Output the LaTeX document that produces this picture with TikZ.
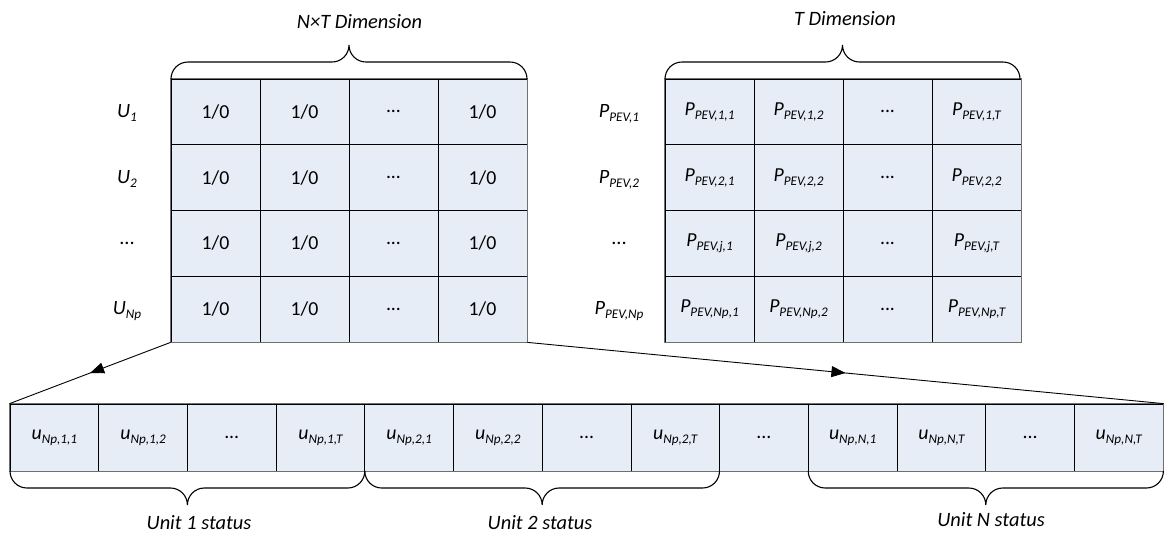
\documentclass[tikz,border=0pt]{standalone}
\usepackage{fontspec}
\setmainfont{Carlito}
\usetikzlibrary{arrows.meta,decorations.markings}
\definecolor{cellblue}{HTML}{E7EDF7}
\definecolor{edgegray}{HTML}{707070}
\newcommand{\Sb}[2]{\textit{#1}\raisebox{-3.8pt}{\fontsize{13.2}{14}\selectfont\itshape #2}}
\newcommand{\hbrace}[4]{%
  \pgfmathsetmacro\bxc{(#1+#2)/2}%
  \pgfmathsetmacro\bh{17*(#4)}%
  \draw[bracestyle] ({#1},{#3}) .. controls ({#1},{#3+0.55*(\bh)}) and ({#1+7.5},{#3+\bh}) .. ({#1+17},{#3+\bh})
    -- ({\bxc-17},{#3+\bh}) .. controls ({\bxc-7.5},{#3+\bh}) and ({\bxc},{#3+1.45*(\bh)}) .. ({\bxc},{#3+2*(\bh)})
    .. controls ({\bxc},{#3+1.45*(\bh)}) and ({\bxc+7.5},{#3+\bh}) .. ({\bxc+17},{#3+\bh})
    -- ({#2-17},{#3+\bh}) .. controls ({#2-7.5},{#3+\bh}) and ({#2},{#3+0.55*(\bh)}) .. ({#2},{#3});}
\begin{document}
\begin{tikzpicture}[x=1pt,y=-1pt,
  cell/.style={draw=black, fill=cellblue, line width=0.8pt, minimum width=89pt, minimum height=65.75pt, inner sep=0pt, font=\fontsize{19.8}{22}\selectfont},
  bcell/.style={cell, minimum width=88.7pt, minimum height=67pt},
  rowlabel/.style={inner sep=0pt, font=\fontsize{20.3}{24}\selectfont},
  title/.style={inner sep=0pt, font=\fontsize{20.4}{24}\selectfont\itshape},
  outer/.style={draw=edgegray, line width=1.3pt},
  bracestyle/.style={draw=black, line width=1.1pt},
  conn/.style={draw=black, line width=0.9pt, postaction={decorate}, decoration={markings, mark=at position 0.5 with {\arrow{Triangle[length=14pt,width=11pt]}}}}]
\useasboundingbox (0,0) rectangle (1164,539);

% ---- left matrix
\node[cell] (a11) at (215.5,111.9) {1/0};
\node[cell] (a12) at (304.5,111.9) {1/0};
\node[cell] (a13) at (393.5,111.9) {...};
\node[cell] (a14) at (482.5,111.9) {1/0};
\node[cell] (a21) at (215.5,177.6) {1/0};
\node[cell] (a22) at (304.5,177.6) {1/0};
\node[cell] (a23) at (393.5,177.6) {...};
\node[cell] (a24) at (482.5,177.6) {1/0};
\node[cell] (a31) at (215.5,243.4) {1/0};
\node[cell] (a32) at (304.5,243.4) {1/0};
\node[cell] (a33) at (393.5,243.4) {...};
\node[cell] (a34) at (482.5,243.4) {1/0};
\node[cell] (a41) at (215.5,309.1) {1/0};
\node[cell] (a42) at (304.5,309.1) {1/0};
\node[cell] (a43) at (393.5,309.1) {...};
\node[cell] (a44) at (482.5,309.1) {1/0};
\draw[outer] (a11.north west) rectangle (a44.south east);

\node[rowlabel] (lu1) at (127,113) {\Sb{U}{1}};
\node[rowlabel] (lu2) at (127,179) {\Sb{U}{2}};
\node[rowlabel] (lu3) at (127,243) {...};
\node[rowlabel] (lu4) at (127,311) {\Sb{U}{Np}};

% ---- right matrix
\node[cell] (p11) at (709.5,111.9) {\Sb{P}{PEV,1,1}};
\node[cell] (p12) at (798.5,111.9) {\Sb{P}{PEV,1,2}};
\node[cell] (p13) at (887.5,111.9) {...};
\node[cell] (p14) at (976.5,111.9) {\Sb{P}{PEV,1,T}};
\node[cell] (p21) at (709.5,177.6) {\Sb{P}{PEV,2,1}};
\node[cell] (p22) at (798.5,177.6) {\Sb{P}{PEV,2,2}};
\node[cell] (p23) at (887.5,177.6) {...};
\node[cell] (p24) at (976.5,177.6) {\Sb{P}{PEV,2,2}};
\node[cell] (p31) at (709.5,243.4) {\Sb{P}{PEV,j,1}};
\node[cell] (p32) at (798.5,243.4) {\Sb{P}{PEV,j,2}};
\node[cell] (p33) at (887.5,243.4) {...};
\node[cell] (p34) at (976.5,243.4) {\Sb{P}{PEV,j,T}};
\node[cell] (p41) at (709.5,309.1) {\Sb{P}{PEV,Np,1}};
\node[cell] (p42) at (798.5,309.1) {\Sb{P}{PEV,Np,2}};
\node[cell] (p43) at (887.5,309.1) {...};
\node[cell] (p44) at (976.5,309.1) {\Sb{P}{PEV,Np,T}};
\draw[outer] (p11.north west) rectangle (p44.south east);

\node[rowlabel] (lp1) at (619,114) {\Sb{P}{PEV,1}};
\node[rowlabel] (lp2) at (619,180) {\Sb{P}{PEV,2}};
\node[rowlabel] (lp3) at (619,243) {...};
\node[rowlabel] (lp4) at (619,311) {\Sb{P}{PEV,Np}};

% ---- bottom row
\node[bcell] (b1)  at (54.35,437.5)  {\Sb{u}{Np,1,1}};
\node[bcell] (b2)  at (143.05,437.5) {\Sb{u}{Np,1,2}};
\node[bcell] (b3)  at (231.75,437.5) {...};
\node[bcell] (b4)  at (320.45,437.5) {\Sb{u}{Np,1,T}};
\node[bcell] (b5)  at (409.15,437.5) {\Sb{u}{Np,2,1}};
\node[bcell] (b6)  at (497.85,437.5) {\Sb{u}{Np,2,2}};
\node[bcell] (b7)  at (586.55,437.5) {...};
\node[bcell] (b8)  at (675.25,437.5) {\Sb{u}{Np,2,T}};
\node[bcell] (b9)  at (763.95,437.5) {...};
\node[bcell] (b10) at (852.65,437.5) {\Sb{u}{Np,N,1}};
\node[bcell] (b11) at (941.35,437.5) {\Sb{u}{Np,N,T}};
\node[bcell] (b12) at (1030.05,437.5) {...};
\node[bcell] (b13) at (1118.75,437.5) {\Sb{u}{Np,N,T}};
\draw[outer] (b1.north west) rectangle (b13.south east);

% ---- braces
\hbrace{171}{527}{79}{-1}
\hbrace{665}{1020}{79}{-1}
\hbrace{10}{364.8}{471}{1}
\hbrace{364.8}{719.5}{471}{1}
\hbrace{808.2}{1163.4}{471}{1}

% ---- titles
\node[title] (t1) at (359.5,22) {N×T Dimension};
\node[title] (t2) at (845,19) {T Dimension};
\node[title] (s1) at (199,523) {Unit 1 status};
\node[title] (s2) at (540,523) {Unit 2 status};
\node[title] (s3) at (991,520) {Unit N status};

% ---- connectors
\draw[conn] (a41.south west) -- (b1.north west);
\draw[conn] (a44.south east) -- (b13.north east);
\end{tikzpicture}
\end{document}
